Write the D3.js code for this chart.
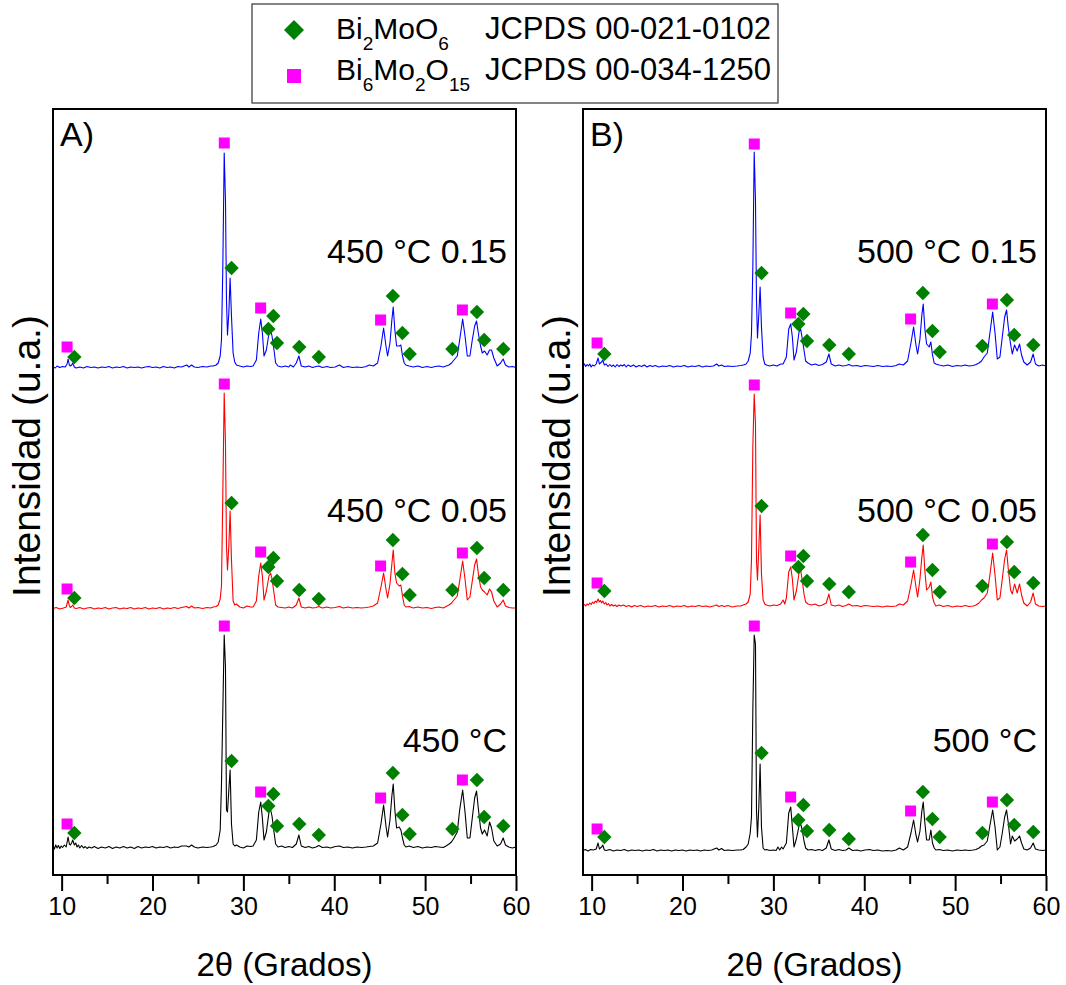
<!DOCTYPE html>
<html>
<head>
<meta charset="utf-8">
<script src="https://cdnjs.cloudflare.com/ajax/libs/d3/7.8.5/d3.min.js"></script>
<style>
  body { margin: 0; background: #fff; }
  text { font-family: "Liberation Sans", Arial, sans-serif; fill: #000; }
</style>
</head>
<body>
<div id="chart"></div>
<script>
// ---- data: 2θ (degrees) vs intensity above each pattern's baseline (a.u.)
const a450_015 = [[9.05,1],[9.3,0],[9.5,2],[9.8,0.5],[10.1,1.5],[10.4,1],[10.6,4],[10.71,9],[10.85,3],[10.96,2],[11.1,3],[11.22,5],[11.4,1],[11.6,0],[12.0,1],[12.4,0],[12.8,1.5],[13.2,0.5],[13.6,1],[14.0,0],[14.4,1],[14.8,0.5],[15.2,1.5],[15.6,0],[16.0,1],[16.4,0.5],[16.8,1.5],[17.2,0],[17.6,1],[18.0,0.5],[18.4,1],[18.8,0],[19.2,1],[19.6,1.5],[20.0,0.5],[20.4,1],[20.8,0],[21.2,1.5],[21.6,0.5],[22.0,1],[22.4,0],[22.8,1.5],[23.2,1],[23.76,3],[24.0,1],[24.3,3],[24.6,1],[25.0,0.5],[25.5,1.5],[26.0,1],[26.4,2],[26.68,2],[27.0,3],[27.23,5],[27.45,12],[27.59,28],[27.74,102],[27.89,215],[28.03,168],[28.14,68],[28.25,33],[28.4,55],[28.54,90],[28.69,52],[28.87,15],[29.05,6],[29.24,3],[29.6,2],[30.0,1],[30.4,2],[30.8,1.5],[31.07,2],[31.43,8],[31.69,35],[31.91,49],[32.09,35],[32.27,12],[32.53,18],[32.82,35],[33.0,38],[33.15,32],[33.37,18],[33.55,5],[33.81,2],[34.2,1],[34.6,2],[35.0,1],[35.16,3],[35.5,1],[35.82,5],[36.11,12],[36.37,2],[36.8,1],[37.2,2],[37.6,0.5],[38.0,1.5],[38.3,2],[38.7,0.5],[39.2,1.5],[39.6,0.5],[40.1,1],[40.57,3],[41.0,0.5],[41.5,1.5],[42.0,0.5],[42.5,1],[43.0,0.5],[43.5,1.5],[43.86,3],[44.3,2],[44.77,5],[45.14,22],[45.43,40],[45.69,22],[45.87,12],[46.13,25],[46.34,48],[46.49,61],[46.67,38],[46.86,22],[47.15,22],[47.33,23],[47.51,12],[47.7,5],[47.88,3],[48.24,2],[48.7,1],[49.2,2],[49.7,0.5],[50.2,1.5],[50.7,0.5],[51.1,1.5],[51.53,2],[52.0,1],[52.3,2],[52.63,3],[52.9,5],[53.18,8],[53.54,12],[53.8,28],[54.13,49],[54.39,32],[54.64,12],[54.93,12],[55.19,28],[55.45,42],[55.66,47],[55.85,35],[56.1,22],[56.29,15],[56.54,17],[56.83,13],[57.09,18],[57.31,18],[57.56,10],[57.93,2],[58.3,5],[58.59,9],[58.84,3],[59.2,1],[59.6,1.5],[60.0,0.5]];

const a450_005 = [[9.05,0.5],[9.4,1.5],[9.8,0],[10.2,1],[10.5,2],[10.71,9],[10.85,3],[10.96,1.5],[11.1,2.5],[11.22,4],[11.4,1],[11.6,0.5],[12.0,1.5],[12.4,0],[12.8,1],[13.2,1.5],[13.6,0],[14.0,1],[14.4,0.5],[14.8,1.5],[15.2,0],[15.6,1],[16.0,1.5],[16.4,0],[16.8,1],[17.2,0.5],[17.6,1.5],[18.0,0],[18.4,1],[18.8,0.5],[19.2,1.5],[19.6,0],[20.0,1],[20.4,0.5],[20.8,1.5],[21.2,0],[21.6,1],[22.0,0.5],[22.4,1.5],[22.8,0.5],[23.2,1.5],[23.76,2.5],[24.0,1],[24.3,3],[24.6,1],[25.0,1.5],[25.5,0.5],[26.0,1.5],[26.4,1],[26.68,2],[27.0,2.5],[27.23,4],[27.45,10],[27.59,23],[27.74,116],[27.89,216],[28.03,166],[28.14,63],[28.25,39],[28.4,63],[28.54,98],[28.69,49],[28.87,8],[29.05,4],[29.24,5],[29.6,2],[30.0,1],[30.4,3],[30.8,2],[31.07,2],[31.43,8],[31.69,33],[31.91,46],[32.09,33],[32.27,9],[32.53,18],[32.82,33],[33.0,36],[33.15,30],[33.37,16],[33.55,4],[33.81,2],[34.2,1.5],[34.6,1],[35.0,2],[35.4,1],[35.82,4],[36.11,11],[36.37,2],[36.8,1],[37.2,2],[37.6,1],[38.0,1.5],[38.3,2.5],[38.7,1],[39.2,2],[39.6,1],[40.1,1.5],[40.57,2.5],[41.0,1],[41.5,2],[42.0,1],[42.5,1.5],[43.0,1],[43.5,1.5],[43.86,2],[44.3,3],[44.77,6],[45.14,22],[45.43,36],[45.69,20],[45.87,11],[46.13,25],[46.34,45],[46.49,59],[46.67,36],[46.86,26],[47.15,23],[47.33,24],[47.51,13],[47.7,4],[47.88,2],[48.24,2.5],[48.7,1],[49.2,2],[49.7,1],[50.2,1.5],[50.7,0.5],[51.1,1.5],[51.53,2],[52.0,1],[52.3,2.5],[52.63,4],[52.9,6],[53.18,9],[53.54,13],[53.8,28],[54.13,48],[54.39,30],[54.64,9],[54.93,12],[55.19,28],[55.45,44],[55.66,50],[55.85,36],[56.1,22],[56.29,19],[56.54,17],[56.83,14],[57.09,20],[57.31,17],[57.56,8],[57.93,2],[58.3,5],[58.59,9],[58.84,3],[59.2,1.5],[59.6,1],[60.0,1]];

const a450 = [[9.05,2],[9.2,-1],[9.35,3],[9.5,0],[9.65,2.5],[9.8,-0.5],[9.95,2],[10.1,0.5],[10.3,3],[10.5,1],[10.71,11],[10.85,4],[10.96,3],[11.1,5],[11.22,8],[11.4,3],[11.55,5],[11.7,1],[11.85,3],[12.0,0],[12.2,2.5],[12.4,0],[12.6,1.5],[12.8,-0.5],[13.0,1],[13.3,0],[13.6,1.5],[14.0,-0.5],[14.4,1],[14.8,0],[15.2,1.5],[15.6,-0.5],[16.0,1],[16.4,0],[16.8,1.5],[17.2,0],[17.6,1],[18.0,-0.5],[18.4,1.5],[18.8,0],[19.2,1],[19.6,0.5],[20.0,1.5],[20.4,0],[20.8,1],[21.2,0.5],[21.6,1.5],[22.0,0],[22.4,1],[22.8,0.5],[23.2,2],[23.76,2],[24.0,1],[24.3,3],[24.6,1],[25.0,0],[25.5,1],[26.0,0.5],[26.4,1],[26.68,1.5],[27.0,3],[27.23,6],[27.45,18],[27.59,64],[27.74,138],[27.89,213],[28.03,181],[28.14,38],[28.25,36],[28.4,58],[28.54,78],[28.69,24],[28.87,4],[29.05,2],[29.24,3],[29.6,1],[30.0,0],[30.4,2],[30.8,1.5],[31.07,2],[31.43,8],[31.69,36],[31.91,46],[32.09,30],[32.27,8],[32.53,16],[32.82,36],[33.0,38],[33.15,32],[33.37,16],[33.55,4],[33.81,1],[34.2,2],[34.6,0.5],[35.0,1.5],[35.4,0.5],[35.82,4],[36.11,13],[36.37,2],[36.8,0.5],[37.2,1.5],[37.6,0],[38.0,1],[38.3,2.5],[38.7,0.5],[39.2,1],[39.6,0],[40.1,1.5],[40.57,2],[41.0,0.5],[41.5,1],[42.0,0],[42.5,1],[43.0,0.5],[43.5,1],[43.86,1.5],[44.3,2],[44.77,5],[45.14,24],[45.43,43],[45.69,22],[45.87,11],[46.13,28],[46.34,52],[46.49,64],[46.67,38],[46.86,20],[47.15,21],[47.33,18],[47.51,10],[47.7,3],[47.88,1],[48.24,2],[48.7,0.5],[49.2,1.5],[49.7,0],[50.2,1],[50.7,0.5],[51.1,1.5],[51.53,1],[52.0,0.5],[52.3,2],[52.63,4],[52.9,6],[53.18,10],[53.54,16],[53.8,38],[54.13,58],[54.39,36],[54.64,10],[54.93,10],[55.19,30],[55.45,50],[55.66,57],[55.85,40],[56.1,20],[56.29,14],[56.54,18],[56.83,12],[57.09,26],[57.31,20],[57.56,7],[57.93,2],[58.3,4],[58.59,10],[58.84,3],[59.2,1],[59.6,0],[60.0,1]];

const b500_015 = [[9.05,1],[9.2,3],[9.35,0.5],[9.5,2.5],[9.65,1],[9.8,3],[9.95,0],[10.1,2],[10.3,1],[10.5,3],[10.71,9],[10.85,3],[10.96,4],[11.1,5],[11.22,7],[11.4,2],[11.6,3],[11.8,0.5],[12.0,2.5],[12.2,0.5],[12.4,2],[12.6,0],[12.8,2.5],[13.0,0.5],[13.2,2],[13.4,1],[13.6,2.5],[13.8,0],[14.0,2],[14.3,0.5],[14.6,2],[14.9,0],[15.2,1.5],[15.5,0.5],[15.8,2],[16.1,0],[16.4,1.5],[16.7,0.5],[17.0,1.5],[17.4,0],[17.8,1],[18.2,0.5],[18.6,1.5],[19.0,0],[19.4,1],[19.8,0.5],[20.2,1.5],[20.6,0],[21.0,1],[21.4,0.5],[21.8,1.5],[22.2,0],[22.6,1],[23.0,0.5],[23.4,1],[23.76,3],[24.0,1],[24.3,2],[24.6,0.5],[25.0,1],[25.5,0.5],[26.0,1],[26.4,1.5],[26.68,2],[27.0,3],[27.23,6],[27.45,14],[27.59,33],[27.74,100],[27.89,215],[28.03,167],[28.14,67],[28.25,29],[28.4,53],[28.54,80],[28.69,40],[28.87,10],[29.05,3],[29.24,2],[29.6,1],[30.0,2],[30.4,1],[30.8,3],[31.07,3],[31.43,10],[31.69,38],[31.91,43],[32.09,30],[32.27,7],[32.53,15],[32.82,35],[33.0,38],[33.15,30],[33.37,17],[33.55,6],[33.81,4],[34.2,2],[34.6,3],[35.0,1.5],[35.4,2.5],[35.82,5],[36.11,13],[36.37,3],[36.8,1],[37.2,2],[37.6,1],[38.0,1.5],[38.3,2.5],[38.7,1],[39.2,1.5],[39.6,0.5],[40.1,1.5],[40.57,1],[41.0,0.5],[41.5,1.5],[42.0,0.5],[42.5,1],[43.0,0.5],[43.5,1.5],[43.86,3],[44.3,2],[44.77,6],[45.14,24],[45.43,40],[45.69,22],[45.87,13],[46.13,28],[46.34,52],[46.49,63],[46.67,38],[46.86,23],[47.15,20],[47.33,25],[47.51,12],[47.7,4],[47.88,3],[48.24,2],[48.7,1],[49.2,2],[49.7,0.5],[50.2,1.5],[50.7,1],[51.1,2],[51.53,1],[52.0,1.5],[52.3,2.5],[52.63,4],[52.9,6],[53.18,10],[53.54,14],[53.8,32],[54.13,55],[54.39,34],[54.64,8],[54.93,10],[55.19,30],[55.45,50],[55.66,57],[55.85,40],[56.1,23],[56.29,13],[56.54,22],[56.83,16],[57.09,23],[57.31,12],[57.56,5],[57.93,2],[58.3,5],[58.59,13],[58.84,3],[59.2,1],[59.6,2],[60.0,1]];

const b500_005 = [[9.05,1],[9.2,2.5],[9.35,1],[9.5,3],[9.65,2],[9.8,4],[9.95,2.5],[10.1,5],[10.25,3.5],[10.4,6],[10.55,4.5],[10.71,8],[10.85,5],[10.96,6.5],[11.1,4],[11.22,6],[11.4,3],[11.55,4.5],[11.7,2],[11.85,3.5],[12.0,1],[12.2,2.5],[12.4,1],[12.6,2],[12.8,0.5],[13.0,2],[13.2,1],[13.5,2],[13.8,0.5],[14.1,1.5],[14.4,0],[14.7,1.5],[15.0,0.5],[15.4,1.5],[15.8,0],[16.2,1],[16.6,0.5],[17.0,1.5],[17.4,0],[17.8,1],[18.2,0.5],[18.6,1.5],[19.0,0],[19.4,1],[19.8,0.5],[20.2,1.5],[20.6,0],[21.0,1],[21.4,0.5],[21.8,1.5],[22.2,0.5],[22.6,1],[23.0,0],[23.4,1],[23.76,2],[24.0,0.5],[24.3,1.5],[24.6,0.5],[25.0,1.5],[25.5,0],[26.0,1],[26.4,1],[26.68,2],[27.0,3],[27.23,5],[27.45,13],[27.59,47],[27.74,160],[27.89,213],[28.03,183],[28.14,47],[28.25,27],[28.4,60],[28.54,92],[28.69,33],[28.87,7],[29.05,3],[29.24,2],[29.6,1],[30.0,2],[30.4,1.5],[30.8,3],[31.07,7],[31.25,3],[31.43,9],[31.69,35],[31.91,40],[32.09,28],[32.27,7],[32.53,16],[32.82,34],[33.0,37],[33.15,28],[33.37,13],[33.55,5],[33.81,3],[34.2,2],[34.6,3],[35.0,1],[35.4,2],[35.82,4],[36.11,13],[36.37,2],[36.8,1],[37.2,2],[37.6,0.5],[38.0,1.5],[38.3,3],[38.7,1],[39.2,1.5],[39.6,0.5],[40.1,1.5],[40.57,1],[41.0,0.5],[41.5,1],[42.0,0],[42.5,1],[43.0,0.5],[43.5,1],[43.86,3],[44.3,2],[44.77,6],[45.14,22],[45.43,37],[45.69,20],[45.87,10],[46.13,28],[46.34,50],[46.49,62],[46.67,36],[46.86,17],[47.15,20],[47.33,25],[47.51,10],[47.7,4],[47.88,1],[48.24,2],[48.7,0.5],[49.2,1.5],[49.7,0],[50.2,1],[50.7,0.5],[51.1,1.5],[51.53,0.5],[52.0,1],[52.3,2],[52.63,4],[52.9,7],[53.18,9],[53.54,14],[53.8,30],[54.13,54],[54.39,32],[54.64,7],[54.93,9],[55.19,28],[55.45,48],[55.66,57],[55.85,38],[56.1,17],[56.29,13],[56.54,23],[56.83,14],[57.09,23],[57.31,12],[57.56,4],[57.93,1],[58.3,5],[58.59,14],[58.84,3],[59.2,1],[59.6,0.5],[60.0,1]];

const b500 = [[9.05,0.5],[9.3,1.5],[9.6,0],[9.9,1.5],[10.2,1],[10.5,2],[10.71,8],[10.85,2],[10.96,3],[11.1,4],[11.22,6],[11.4,1],[11.6,0.5],[12.0,1.5],[12.4,0],[12.8,1],[13.2,0.5],[13.6,1.5],[14.0,0],[14.4,1],[14.8,0.5],[15.2,1],[15.6,0],[16.0,1],[16.4,0.5],[16.8,1.5],[17.2,0],[17.6,1],[18.0,0.5],[18.4,1],[18.8,0],[19.2,1],[19.6,0.5],[20.0,1],[20.4,0],[20.8,1],[21.2,0.5],[21.6,1],[22.0,0],[22.4,1],[22.8,0.5],[23.2,1],[23.76,3],[24.0,1],[24.3,2.5],[24.6,0.5],[25.0,1],[25.5,0.5],[26.0,1],[26.4,1],[26.68,1.5],[27.0,4],[27.23,7],[27.45,18],[27.59,34],[27.74,141],[27.89,216],[28.03,207],[28.14,41],[28.25,14],[28.4,45],[28.54,87],[28.69,24],[28.87,3],[29.05,1],[29.24,1.5],[29.6,0.5],[30.0,1],[30.3,0.5],[30.5,4],[30.7,1],[30.9,4],[31.07,2],[31.43,8],[31.69,38],[31.91,44],[32.09,24],[32.27,4],[32.53,12],[32.82,25],[33.0,27],[33.15,22],[33.37,10],[33.55,3],[33.81,1],[34.2,1.5],[34.6,0.5],[35.0,1.5],[35.4,0.5],[35.82,3],[36.11,11],[36.37,2],[36.8,0.5],[37.2,1.5],[37.6,0.5],[38.0,1],[38.3,3],[38.7,0.5],[39.2,1],[39.6,0],[40.1,1],[40.57,1.5],[41.0,0.5],[41.5,1],[42.0,0],[42.5,0.5],[43.0,0],[43.5,1],[43.86,3],[44.3,1],[44.77,4],[45.14,18],[45.43,31],[45.69,16],[45.87,9],[46.13,20],[46.34,40],[46.49,49],[46.67,28],[46.86,11],[47.15,11],[47.33,21],[47.51,8],[47.7,3],[47.88,1],[48.24,1.5],[48.7,0.5],[49.2,1],[49.7,0],[50.2,1],[50.7,0.5],[51.1,1],[51.53,0.5],[52.0,1],[52.3,1.5],[52.63,3],[52.9,5],[53.18,6],[53.54,10],[53.8,24],[54.13,41],[54.39,24],[54.64,1],[54.93,4],[55.19,18],[55.45,34],[55.66,41],[55.85,28],[56.1,7],[56.29,15],[56.54,10],[56.83,12],[57.09,15],[57.31,8],[57.56,2],[57.93,1],[58.3,3],[58.59,8],[58.84,2],[59.2,1],[59.6,0.5],[60.0,1]];

// phase reflections (2θ) marked on every pattern
const bi2moo6Theta   = [11.4, 28.7, 32.75, 33.3, 33.7, 36.15, 38.3, 46.45, 47.5, 48.3, 53.0, 55.7, 56.5, 58.6];
const bi6mo2o15Theta = [10.6, 27.9, 31.9, 45.1, 54.1];

// marker heights above baseline, same order as the theta arrays
const bi2moo6H = {
  a450_015: [11,100,39,52,25,21,11,72,35,14,19,56,28,19],
  a450_005: [11,106,42,51,28,19,10,69,35,14,19,61,31,19],
  a450:     [15,87,42,54,22,24,13,75,33,14,19,68,31,22],
  b500_015: [13,94,43,53,26,22,13,74,36,15,21,67,32,22],
  b500_005: [16,101,40,51,26,23,15,72,37,15,21,65,35,24],
  b500:     [14,98,31,46,20,21,12,59,32,14,18,51,26,19]
};
const bi6mo2o15H = {
  a450_015: [21,225,60,48,58],
  a450_005: [20,225,57,43,56],
  a450:     [24,222,56,50,68],
  b500_015: [24,223,54,48,63],
  b500_005: [24,222,51,45,63],
  b500:     [22,225,54,40,49]
};

// stacking offsets (a.u.) and labels
const seriesA = [
  { key: "a450_015", data: a450_015, offset: 507, label: "450 °C 0.15", color: "#0000ff" },
  { key: "a450_005", data: a450_005, offset: 266, label: "450 °C 0.05", color: "#ff0000" },
  { key: "a450",     data: a450,     offset: 27,  label: "450 °C",      color: "#000000" }
];
const seriesB = [
  { key: "b500_015", data: b500_015, offset: 508, label: "500 °C 0.15", color: "#0000ff" },
  { key: "b500_005", data: b500_005, offset: 268, label: "500 °C 0.05", color: "#ff0000" },
  { key: "b500",     data: b500,     offset: 24,  label: "500 °C",      color: "#000000" }
];
const labelLevels = [612, 353, 123]; // a.u. position of the sample labels
const majorTicks = [10, 20, 30, 40, 50, 60];
const minorTicks = [15, 25, 35, 45, 55];
const xDomain = [9.05, 60];
const yDomain = [0, 766];

// ---- layout
const W = 1066, H = 985;
const plotTop = 109, plotBottom = 875;
const panels = [
  { name: "A)", series: seriesA, x0: 53, x1: 516 },
  { name: "B)", series: seriesB, x0: 583, x1: 1046 }
];

const svg = d3.select("#chart").append("svg")
  .attr("width", W).attr("height", H);

const y = d3.scaleLinear().domain(yDomain).range([plotBottom, plotTop]);

const diamond = d3.symbol().type(d3.symbolSquare).size(104);
const square = d3.symbol().type(d3.symbolSquare).size(121);

panels.forEach((p) => {
  const x = d3.scaleLinear().domain(xDomain).range([p.x0, p.x1]);
  const g = svg.append("g");

  // curves
  p.series.forEach((s) => {
    const line = d3.line().x((d) => x(d[0])).y((d) => y(s.offset + d[1]));
    g.append("path")
      .datum(s.data)
      .attr("fill", "none")
      .attr("stroke", s.color)
      .attr("stroke-width", 1.1)
      .attr("stroke-linejoin", "round")
      .attr("d", line);
  });

  // phase markers
  p.series.forEach((s) => {
    const dia = bi2moo6Theta.map((t, i) => ({ t, h: bi2moo6H[s.key][i] }));
    const sq = bi6mo2o15Theta.map((t, i) => ({ t, h: bi6mo2o15H[s.key][i] }));
    g.selectAll(null).data(sq).join("path")
      .attr("d", square)
      .attr("fill", "#ff00ff")
      .attr("transform", (d) => `translate(${x(d.t)},${y(s.offset + d.h)})`);
    g.selectAll(null).data(dia).join("path")
      .attr("d", diamond)
      .attr("fill", "#008000")
      .attr("transform", (d) => `translate(${x(d.t)},${y(s.offset + d.h)}) rotate(45)`);
  });

  // sample labels
  p.series.forEach((s, i) => {
    g.append("text")
      .attr("x", p.x1 - 9)
      .attr("y", y(labelLevels[i]))
      .attr("text-anchor", "end")
      .attr("font-size", "34px")
      .text(s.label);
  });

  // frame
  g.append("rect")
    .attr("x", p.x0).attr("y", plotTop)
    .attr("width", p.x1 - p.x0).attr("height", plotBottom - plotTop)
    .attr("fill", "none").attr("stroke", "#000").attr("stroke-width", 2);

  // x axis
  const axisG = g.append("g").attr("transform", `translate(0,${plotBottom + 1})`);
  axisG.call(d3.axisBottom(x).tickValues(majorTicks).tickSize(15).tickPadding(6).tickFormat(d3.format("d")));
  axisG.select(".domain").remove();
  axisG.selectAll(".tick line").attr("stroke-width", 2);
  axisG.selectAll(".tick text")
    .attr("font-size", "25px")
    .attr("font-family", "'Liberation Sans', Arial, sans-serif")
    .attr("fill", "#000");
  const minorG = g.append("g").attr("transform", `translate(0,${plotBottom + 1})`);
  minorG.call(d3.axisBottom(x).tickValues(minorTicks).tickSize(8).tickFormat(""));
  minorG.select(".domain").remove();
  minorG.selectAll(".tick line").attr("stroke-width", 2);

  // axis titles
  g.append("text")
    .attr("x", (p.x0 + p.x1) / 2)
    .attr("y", 976)
    .attr("text-anchor", "middle")
    .attr("font-size", "33px")
    .text("2θ (Grados)");
  g.append("text")
    .attr("transform", `translate(${p.x0 - 13},456) rotate(-90)`)
    .attr("text-anchor", "middle")
    .attr("font-size", "39px")
    .text("Intensidad (u.a.)");

  // panel letter
  g.append("text")
    .attr("x", p.x0 + 7)
    .attr("y", 146)
    .attr("font-size", "34px")
    .text(p.name);
});

// ---- legend
const leg = svg.append("g");
leg.append("rect")
  .attr("x", 252).attr("y", 4).attr("width", 526).attr("height", 99)
  .attr("fill", "#fff").attr("stroke", "#333").attr("stroke-width", 1.2);

leg.append("path")
  .attr("d", d3.symbol().type(d3.symbolSquare).size(200))
  .attr("fill", "#008000")
  .attr("transform", "translate(294,30) rotate(45)");
leg.append("path")
  .attr("d", d3.symbol().type(d3.symbolSquare).size(196))
  .attr("fill", "#ff00ff")
  .attr("transform", "translate(294,76)");

function formula(parent, xPos, yPos, parts) {
  const t = parent.append("text").attr("x", xPos).attr("y", yPos).attr("font-size", "30px");
  let down = false;
  parts.forEach(([txt, sub]) => {
    if (sub) {
      t.append("tspan").attr("font-size", "19px").attr("dy", down ? 0 : 11).text(txt);
      down = true;
    } else {
      t.append("tspan").attr("dy", down ? -11 : 0).text(txt);
      down = false;
    }
  });
}
formula(leg, 336, 39, [["Bi"], ["2", 1], ["MoO"], ["6", 1]]);
formula(leg, 336, 80, [["Bi"], ["6", 1], ["Mo"], ["2", 1], ["O"], ["15", 1]]);
leg.append("text").attr("x", 771).attr("y", 39).attr("text-anchor", "end")
  .attr("font-size", "31px").text("JCPDS 00-021-0102");
leg.append("text").attr("x", 771).attr("y", 80).attr("text-anchor", "end")
  .attr("font-size", "31px").text("JCPDS 00-034-1250");
</script>
</body>
</html>
